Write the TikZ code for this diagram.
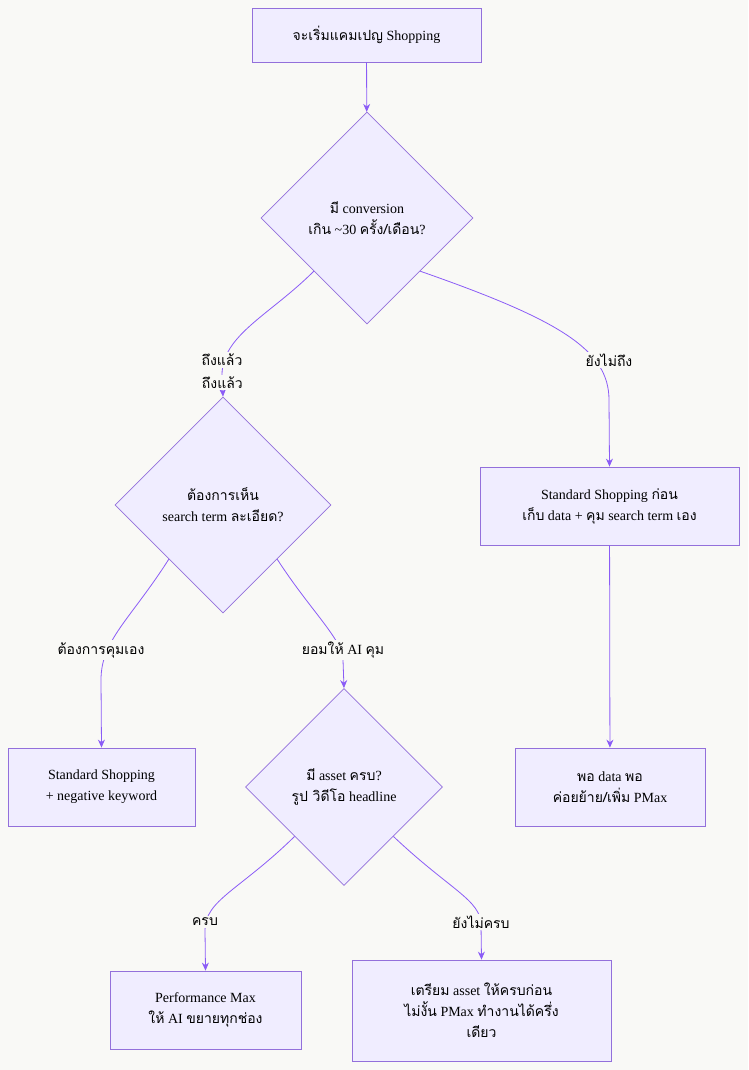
\documentclass[tikz,border=0pt]{standalone}
\usepackage{fontspec}
\setmainfont{Liberation Serif}
\newfontfamily\thf[Script=Thai]{Loma}
\usetikzlibrary{shapes.geometric,arrows.meta}
\definecolor{bg}{HTML}{F9F9F6}
\definecolor{nfill}{HTML}{F0EDFF}
\definecolor{nline}{HTML}{9370DB}
\definecolor{eline}{HTML}{8B5CF6}
\newcommand{\T}[1]{{\thf #1}}
\begin{document}
\begin{tikzpicture}[x=1pt,y=-1pt,font=\fontsize{14}{21}\selectfont,
  box/.style={draw=nline,fill=nfill,line width=0.8pt,align=center,inner sep=0pt},
  dia/.style={draw=nline,fill=nfill,line width=0.8pt,diamond,aspect=1,align=center,inner sep=0pt},
  edge/.style={draw=eline,line width=0.8pt,-{Stealth[length=8pt,width=7pt]}},
  lbl/.style={fill=bg,inner sep=2pt,font=\fontsize{14}{17}\selectfont}]
\fill[bg] (0,0) rectangle (748,1070);
\useasboundingbox (0,0) rectangle (748,1070);
\node[box,minimum width=229,minimum height=54] (A) at (366.5,35) {\T{จะเริ่มแคมเปญ} Shopping};
\node[dia,minimum width=212,minimum height=212] (B) at (367,218) {\T{มี} conversion\\\T{เกิน} \textasciitilde30 \T{ครั้ง/เดือน}?};
\node[dia,minimum width=216,minimum height=216] (C) at (223,505) {\T{ต้องการเห็น}\\search term \T{ละเอียด}?};
\node[box,minimum width=259,minimum height=78] (D) at (609.5,506) {Standard Shopping \T{ก่อน}\\\T{เก็บ} data + \T{คุม} search term \T{เอง}};
\node[box,minimum width=187,minimum height=78] (E) at (101.5,787) {Standard Shopping\\+ negative keyword};
\node[dia,minimum width=197,minimum height=197] (F) at (344,787) {\T{มี} asset \T{ครบ}?\\\T{รูป วิดีโอ} headline};
\node[box,minimum width=190,minimum height=78] (G) at (610,787) {\T{พอ} data \T{พอ}\\\T{ค่อยย้าย/เพิ่ม} PMax};
\node[box,minimum width=191,minimum height=78] (H) at (205.5,1010) {Performance Max\\\T{ให้} AI \T{ขยายทุกช่อง}};
\node[box,minimum width=259,minimum height=101] (I) at (481.5,1010.5) {\T{เตรียม} asset \T{ให้ครบก่อน}\\\T{ไม่งั้น} PMax \T{ทำงานได้ครึ่ง}\\\T{เดียว}};
\draw[edge] (A) -- (B);
\draw[edge] (B.south west) .. controls (270,315) and (222,335) .. (222,375) -- (C.north) node[lbl,pos=0.35] at (222,360) {\T{ถึงแล้ว}};
\node[lbl] at (222,360) {\T{ถึงแล้ว}};
\draw[edge] (B.south east) .. controls (560,320) and (609,350) .. (609,400) -- (D.north);
\node[lbl] at (609,360) {\T{ยังไม่ถึง}};
\draw[edge] (C.south west) .. controls (130,620) and (101,640) .. (101,680) -- (E.north);
\node[lbl] at (101,650) {\T{ต้องการคุมเอง}};
\draw[edge] (C.south east) .. controls (310,610) and (343,640) .. (343,660) -- (F.north);
\node[lbl] at (343,650) {\T{ยอมให้} AI \T{คุม}};
\draw[edge] (D) -- (G);
\draw[edge] (F.south west) .. controls (240,890) and (205,900) .. (205,930) -- (H.north);
\node[lbl] at (205,922) {\T{ครบ}};
\draw[edge] (F.south east) .. controls (450,890) and (481,900) .. (481,925) -- (I.north);
\node[lbl] at (481,922) {\T{ยังไม่ครบ}};
\end{tikzpicture}
\end{document}
